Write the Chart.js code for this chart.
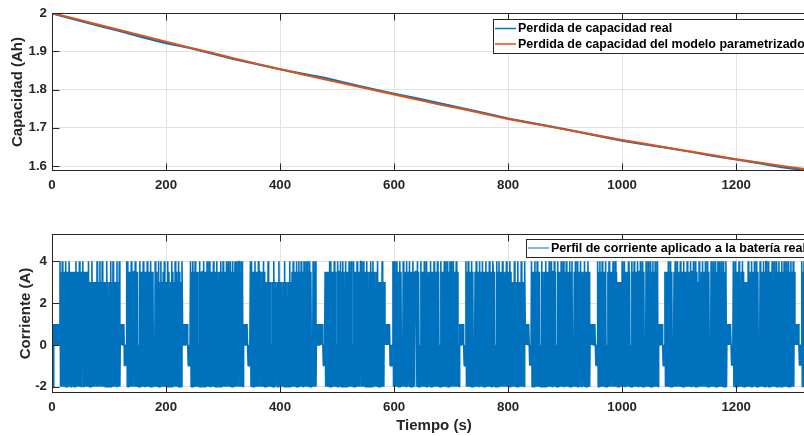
<!DOCTYPE html>
<html>
<head>
<meta charset="utf-8">
<script src="https://cdn.jsdelivr.net/npm/chart.js@4/dist/chart.umd.min.js"></script>
<style>
  html, body { margin: 0; padding: 0; background: #fff; overflow: hidden; }
  #wrap { position: relative; width: 820px; height: 436px; }
  #wrap canvas { position: absolute; left: 0; }
  #capChart { top: 0; }
  #curChart { top: 215px; }
</style>
</head>
<body>
<div id="wrap">
  <canvas id="capChart" width="820" height="200"></canvas>
  <canvas id="curChart" width="820" height="221"></canvas>
</div>
<script>
// capacity fade, sampled every 40 s
var capTime = [0, 40, 80, 120, 160, 200, 240, 280, 320, 360, 400, 440, 480, 520, 560, 600, 640,
  680, 720, 760, 800, 840, 880, 920, 960, 1000, 1040, 1080, 1120, 1160, 1200, 1240, 1280, 1320, 1340];
var capReal = [1.999, 1.983, 1.967, 1.952, 1.936, 1.921, 1.909, 1.894, 1.879, 1.866, 1.853, 1.841,
  1.830, 1.816, 1.802, 1.789, 1.777, 1.764, 1.751, 1.738, 1.724, 1.713, 1.702, 1.690, 1.678, 1.666,
  1.656, 1.647, 1.637, 1.626, 1.617, 1.607, 1.597, 1.589, 1.585];
var capModel = [2.000, 1.985, 1.970, 1.955, 1.940, 1.925, 1.910, 1.896, 1.881, 1.867, 1.853, 1.839,
  1.826, 1.813, 1.800, 1.787, 1.774, 1.761, 1.749, 1.736, 1.723, 1.712, 1.701, 1.690, 1.679, 1.668,
  1.658, 1.648, 1.638, 1.628, 1.618, 1.609, 1.600, 1.592, 1.588];

var timeTicks = [0, 200, 400, 600, 800, 1000, 1200];
var capTicks = [1.6, 1.7, 1.8, 1.9, 2];
var currentTicks = [-2, 0, 2, 4];

// current profile, one sample per second, one letter per sample
var levelCodes = { a: -2, b: -1, c: 0, d: 1, e: 2, f: 3, g: 3.5, h: 4 };
var currentSegments = [
  'ddadcdcdcd cdcd',
  'hagahagaga hagagahhag agagaagaha gagahagagc hagagagaga hafafahafa faffahafac hafahafafa fahafaafah afahafacfa hafaha',
  'dcdcdcdbcb c',
  'hahagagaha gaggahagag acahagagah agaagahaga gahagagaca hagafahafa hafagahafa fahagaafah agafahagaf ahagafah',
  'dcdcdcdcdc bcbc',
  'hagahagaha gagacahaga ggahagagah agahaagaga hagagahagc agahagahag agahaahaga hagahagaha hagahhagah aha',
  'dcdcdcdcbc bc',
  'hahagagaha gagahaggac agahagafaf ahafafacaf ahafaffafa hafafaeafa hafafaafah afagahagag ahagahagah agaahagaha hagahagaca hagaha',
  'dcdcdcdcdc dcbcb',
  'gagagagaha hagagahaga cahaggahag ahagaahaga gahagahaca hagagahaga gahhagahag agahagaaga hagahagaca gahafafafa hafaf',
  'dcdcdcdcdb cbcb',
  'hahagahaga gahagacaha gagahaagah agagahagag ggahagacah agagahagah agaagahaga gahagagaha gacahagaga hahagahaga hahagahhag ahagaca',
  'dcdcdcdcbc b',
  'hagahagaga hagacagaha gagahaagah agagahagag ahagagahga gacahagaha gagahagaag ahagagahag afafahafaf ahafafahaf afah',
  'dcdcdcdcbc b',
  'hagagahaga hagagacaha gaagahagag ahagahagga hagacahaga gahagahaag ahagagahag ahacagahag ahagaahaga agahagagah aga',
  'dcdcdcdcdc bcb',
  'hagahagaha gagahacaga hagaggahag ahagafafaf afahagahag aagahagaca hagahagaga haggahagah agacahagah agahagahag ahagaha',
  'dcdcdcdcbc b',
  'gagagahaga hagacagaha gahaagahag agahagagah agacahagga hagahagafa hafagahaag ahagahagac ahagahagah agahahagah agahagaha',
  'dcdcdcdcbc b',
  'hagahagaga hacagahaga fafafahaga gahagaahag ahagacahag agahagahha gahagagaha cahagahaga hagaahagah agahagahag ahagahag',
  'dcdcdcdcbc bc',
  'hagahagaga hacagahaga hagaha'
];
var currentValues = currentSegments.join('').replace(/\s/g, '').split('').map(function (ch) { return levelCodes[ch]; });

var ink = '#262626';
var gridColor = '#e2e2e2';
var fontFamily = "'Liberation Sans', Arial, Helvetica, sans-serif";
var tickFont = { family: fontFamily, size: 13.3, weight: 'bold' };
var titleFont = { family: fontFamily, size: 15, weight: 'bold' };
var legendFont = 'bold 12.5px ' + fontFamily;

// axes box with inward tick marks on all sides
var framePlugin = {
  id: 'frame',
  afterDatasetsDraw: function (chart) {
    var ctx = chart.ctx, a = chart.chartArea, sx = chart.scales.x, sy = chart.scales.y;
    var L = Math.round(a.left) + 0.5, R = Math.round(a.right) - 0.5;
    var T = Math.round(a.top) + 0.5, B = Math.round(a.bottom) - 0.5;
    ctx.save();
    ctx.strokeStyle = ink;
    ctx.lineWidth = 1;
    ctx.strokeRect(L, T, R - L, B - T);
    ctx.beginPath();
    sx.ticks.forEach(function (t) {
      var px = Math.round(sx.getPixelForValue(t.value)) + 0.5;
      ctx.moveTo(px, B); ctx.lineTo(px, B - 7);
      ctx.moveTo(px, T); ctx.lineTo(px, T + 7);
    });
    sy.ticks.forEach(function (t) {
      var py = Math.round(sy.getPixelForValue(t.value)) + 0.5;
      ctx.moveTo(L, py); ctx.lineTo(L + 7, py);
      ctx.moveTo(R, py); ctx.lineTo(R - 7, py);
    });
    ctx.stroke();
    ctx.restore();
  }
};

// boxed legend drawn inside the plot
var boxLegendPlugin = {
  id: 'boxLegend',
  afterDraw: function (chart, args, opts) {
    var ctx = chart.ctx;
    ctx.save();
    ctx.fillStyle = '#fff';
    ctx.fillRect(opts.x, opts.y, opts.w, opts.h);
    ctx.strokeStyle = ink;
    ctx.lineWidth = 1;
    ctx.strokeRect(opts.x + 0.5, opts.y + 0.5, opts.w, opts.h);
    ctx.font = legendFont;
    ctx.textBaseline = 'middle';
    chart.data.datasets.forEach(function (ds, i) {
      var y = opts.y + opts.first + i * opts.rowH;
      ctx.strokeStyle = ds.borderColor;
      ctx.lineWidth = opts.sampleWidth;
      ctx.beginPath();
      ctx.moveTo(opts.x + 2, y);
      ctx.lineTo(opts.x + 23, y);
      ctx.stroke();
      ctx.fillStyle = '#000';
      ctx.fillText(ds.label, opts.x + 25, y + 0.5);
    });
    ctx.restore();
  }
};

function xAxis(height, withTitle) {
  return {
    type: 'linear', min: 0, max: 1340,
    afterFit: function (s) { s.height = height; },
    afterBuildTicks: function (s) { s.ticks = timeTicks.map(function (v) { return { value: v }; }); },
    ticks: { padding: 6, color: ink, font: tickFont, maxRotation: 0, autoSkip: false,
      callback: function (v) { return String(v); } },
    grid: { color: gridColor, drawTicks: false },
    border: { display: false },
    title: { display: withTitle, text: 'Tiempo (s)', color: ink, font: titleFont, padding: { top: 0, bottom: 1.5 } }
  };
}

function yAxis(min, max, tickList, label, titlePad) {
  return {
    min: min, max: max,
    afterFit: function (s) { s.width = 52; },
    afterBuildTicks: function (s) { s.ticks = tickList.map(function (v) { return { value: v }; }); },
    ticks: { padding: 5, color: ink, font: tickFont, callback: function (v) { return String(v); } },
    grid: { color: gridColor, drawTicks: false },
    border: { display: false },
    title: { display: true, text: label, color: ink, font: titleFont, padding: { top: titlePad, bottom: 0 } }
  };
}

new Chart(document.getElementById('capChart'), {
  type: 'line',
  plugins: [framePlugin, boxLegendPlugin],
  data: {
    datasets: [
      {
        label: 'Perdida de capacidad real',
        data: capTime.map(function (t, i) { return { x: t, y: capReal[i] }; }),
        borderColor: '#0072BD', borderWidth: 2, order: 1
      },
      {
        label: 'Perdida de capacidad del modelo parametrizado',
        data: capTime.map(function (t, i) { return { x: t, y: capModel[i] }; }),
        borderColor: '#D95319', borderWidth: 2, order: 0
      }
    ]
  },
  options: {
    responsive: false, animation: false, devicePixelRatio: 1,
    layout: { autoPadding: false, padding: { left: 0, right: 4, top: 13, bottom: 0 } },
    elements: { point: { radius: 0 }, line: { tension: 0 } },
    plugins: {
      legend: { display: false }, tooltip: { enabled: false },
      boxLegend: { x: 493, y: 19, w: 340, h: 34, first: 9.5, rowH: 15.5, sampleWidth: 1.5 }
    },
    scales: { x: xAxis(29, false), y: yAxis(1.587, 2, capTicks, 'Capacidad (Ah)', 8.5) }
  }
});

new Chart(document.getElementById('curChart'), {
  type: 'line',
  plugins: [framePlugin, boxLegendPlugin],
  data: {
    datasets: [
      {
        label: 'Perfil de corriente aplicado a la batería real',
        data: currentValues.map(function (v, i) { return { x: i, y: v }; }),
        borderColor: '#0072BD', borderWidth: 1.6, borderJoinStyle: 'bevel'
      }
    ]
  },
  options: {
    responsive: false, animation: false, devicePixelRatio: 1,
    layout: { autoPadding: false, padding: { left: 0, right: 4, top: 19, bottom: 0 } },
    elements: { point: { radius: 0 }, line: { tension: 0 } },
    plugins: {
      legend: { display: false }, tooltip: { enabled: false },
      boxLegend: { x: 526, y: 24, w: 320, h: 18, first: 9, rowH: 15, sampleWidth: 1 }
    },
    scales: { x: xAxis(43, true), y: yAxis(-2.3, 5.3, currentTicks, 'Corriente (A)', 16.5) }
  }
});
</script>
</body>
</html>
